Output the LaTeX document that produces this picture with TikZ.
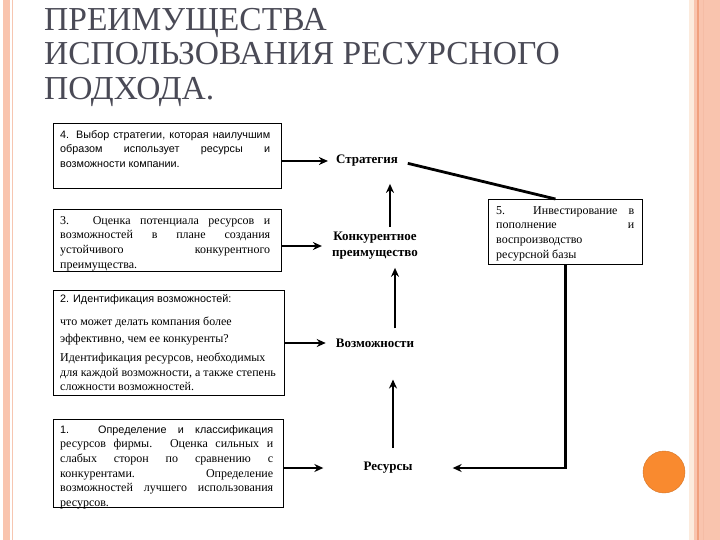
\documentclass[tikz,border=0pt]{standalone}
\usepackage{fontspec}
\setmainfont{Liberation Serif}
\newfontfamily\boxsans{Liberation Sans}
\usetikzlibrary{arrows.meta}
\definecolor{stripPink}{HTML}{F9C4AE}
\definecolor{stripLine}{HTML}{F0A07E}
\definecolor{cream}{HTML}{FCEBDD}
\definecolor{titleGray}{HTML}{4A4A56}
\definecolor{dotOrange}{HTML}{F98A2F}
\tikzset{
  box/.style={draw=black, line width=0.9pt, inner sep=0pt, anchor=north west},
  sanstxt/.style={inner sep=0pt, anchor=north west, align=justify, font=\boxsans\fontsize{10.8}{14.7}\selectfont},
  seriftxt/.style={inner sep=0pt, anchor=north west, align=justify, font=\fontsize{12}{14.7}\selectfont},
  lbl/.style={inner sep=0pt, align=center, font=\bfseries\fontsize{13}{16}\selectfont},
  arr/.style={line width=2.8pt, -{Stealth[length=9pt,width=8pt]}},
  thickline/.style={line width=2.8pt},
  ttl/.style={inner sep=0pt, anchor=base west, text=titleGray, font=\fontsize{33.5}{35}\selectfont}
}
\begin{document}
\begin{tikzpicture}[x=1pt,y=-1pt]
\useasboundingbox (0,0) rectangle (720,540);
\fill[white] (0,0) rectangle (720,540);
% left strip
\fill[stripPink] (3,0) rectangle (10,540);
\draw[stripLine!60, line width=0.6pt] (12.5,0) -- (12.5,540);
% right strip
\fill[cream] (689,0) rectangle (694,540);
\fill[stripPink] (694,0) rectangle (720,540);
\draw[stripLine, line width=1.2pt] (698,0) -- (698,540);
\draw[stripLine!70, line width=0.6pt] (703,0) -- (703,540);
% title
\node[ttl] (t1) at (44,31) {ПРЕИМУЩЕСТВА};
\node[ttl] (t2) at (44,65) {ИСПОЛЬЗОВАНИЯ РЕСУРСНОГО};
\node[ttl] (t3) at (44,100) {ПОДХОДА.};
% left boxes
\node[box, minimum width=228pt, minimum height=65pt] (b4) at (53,123) {};
\node[sanstxt, text width=210pt] (b4t) at (60,130) {4. Выбор стратегии, которая наилучшим\linebreak образом использует ресурсы и\linebreak возможности компании.};
\node[box, minimum width=228pt, minimum height=62pt] (b3) at (53,209) {};
\node[seriftxt, text width=210pt] (b3t) at (60,216) {3. Оценка потенциала ресурсов и\linebreak возможностей в плане создания\linebreak устойчивого конкурентного\linebreak преимущества.};
\node[box, minimum width=231pt, minimum height=105pt] (b2) at (53,290) {};
\node[inner sep=0pt, anchor=north west, align=left, font=\fontsize{12}{14.5}\selectfont] (b2t) at (60,294)
  {{\boxsans\fontsize{10.8}{14.5}\selectfont 2. Идентификация возможностей:}\\[9pt]
   что может делать компания более\\[2pt]
   эффективно, чем ее конкуренты?\\[5pt]
   Идентификация ресурсов, необходимых\\
   для каждой возможности, а также степень\\
   сложности возможностей.};
\node[box, minimum width=230pt, minimum height=88pt] (b1) at (53,419) {};
\node[seriftxt, text width=213pt] (b1t) at (60,425) {{\boxsans\fontsize{10.8}{14.7}\selectfont 1. Определение и классификация}\linebreak ресурсов фирмы. Оценка сильных и\linebreak слабых сторон по сравнению с\linebreak конкурентами. Определение\linebreak возможностей лучшего использования\linebreak ресурсов.};
% right box
\node[box, minimum width=154pt, minimum height=65pt] (b5) at (488,199) {};
\node[seriftxt, text width=138pt] (b5t) at (496,206) {5. Инвестирование в\linebreak пополнение и\linebreak воспроизводство\\ ресурсной базы};
% middle labels
\node[lbl] (strat) at (367,161) {Стратегия};
\node[lbl] (konk) at (375,246) {Конкурентное\\преимущество};
\node[lbl] (vozm) at (375,343) {Возможности};
\node[lbl] (res) at (388,468) {Ресурсы};
% arrows from boxes
\draw[arr, shorten >=8pt] (b4.east |- strat) -- (strat.west);
\draw[arr, shorten >=10pt] (b3.east |- konk) -- (konk.west);
\draw[arr, shorten >=10pt] (b2.east |- vozm) -- (vozm.west);
\draw[arr, shorten >=40pt] (b1.east |- res) -- (res.west);
% vertical arrows
\draw[arr, shorten <=14pt, shorten >=32pt] ([xshift=5pt]res.north) -- ([xshift=5pt]res.north |- vozm.south);
\draw[arr, shorten <=10pt, shorten >=8pt] ([xshift=20pt]vozm.north) -- ([xshift=20pt]vozm.north |- konk.south);
\draw[arr, shorten <=5pt, shorten >=17pt] ([xshift=15pt]konk.north) -- ([xshift=15pt]konk.north |- strat.south);
% strategy to box 5
\draw[thickline, shorten <=10pt] (strat.east) -- ([xshift=-10pt]b5.north);
% box 5 to resources
\draw[arr, shorten >=40pt] ([xshift=0pt]b5.south) |- (res.east);
% decoration dot
\fill[dotOrange] (664,472) circle (21pt);
\draw[dotOrange!85!black, line width=0.4pt] (664,472) circle (21pt);
\end{tikzpicture}
\end{document}
